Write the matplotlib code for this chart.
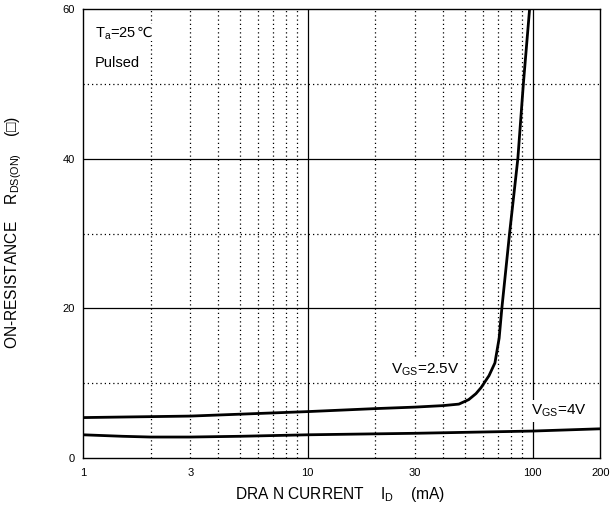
import matplotlib
matplotlib.use('Agg')
import matplotlib.pyplot as plt

plt.rcParams['font.family'] = ['Liberation Sans', 'DejaVu Sans']
plt.rcParams['mathtext.fontset'] = 'custom'
plt.rcParams['mathtext.rm'] = 'Liberation Sans'

# drain current (mA) vs on-resistance
id_25 = [1, 3, 10, 20, 30, 40, 47, 52, 56, 59, 64, 68, 71, 73, 79, 86, 91, 97]
r_25 = [5.4, 5.6, 6.2, 6.6, 6.8, 7.0, 7.2, 7.8, 8.6, 9.4, 11.0, 12.7, 16.0, 20.0, 30.0, 40.0, 50.0, 60.0]
id_4 = [1, 1.5, 2, 3, 5, 10, 30, 100, 200]
r_4 = [3.1, 2.9, 2.8, 2.8, 2.9, 3.1, 3.3, 3.6, 3.9]

xticks = [1, 3, 10, 30, 100, 200]
xtick_labels = ['1', '3', '10', '30', '100', '200']
yticks = [0, 20, 40, 60]

x_major = [10, 100]
x_minor = [2, 3, 4, 5, 6, 7, 8, 9, 20, 30, 40, 50, 60, 70, 80, 90]
y_major = [20, 40]
y_minor = [10, 30, 50]

fig = plt.figure(figsize=(6.1, 5.15), dpi=100)
ax = fig.add_axes([0.136, 0.1107, 0.848, 0.8718])

ax.set_xscale('log')
ax.set_xlim(1, 200)
ax.set_ylim(0, 60)

dot = (0, (1, 2.4))
for x in x_minor:
    ax.axvline(x, color='black', lw=0.9, ls=dot, zorder=1)
for y in y_minor:
    ax.axhline(y, color='black', lw=0.9, ls=dot, zorder=1)
for x in x_major:
    ax.axvline(x, color='black', lw=0.9, zorder=1)
for y in y_major:
    ax.axhline(y, color='black', lw=0.9, zorder=1)

ax.plot(id_25, r_25, color='black', lw=2.0, zorder=4, solid_capstyle='butt')
ax.plot(id_4, r_4, color='black', lw=2.0, zorder=4, solid_capstyle='butt')

ax.set_xticks(xticks)
ax.set_xticklabels(xtick_labels)
ax.xaxis.set_minor_locator(matplotlib.ticker.NullLocator())
ax.set_yticks(yticks)
ax.tick_params(length=0, labelsize=8, pad=7, colors='black')
ax.tick_params(axis='y', pad=6)

for s in ax.spines.values():
    s.set_linewidth(1.0)
    s.set_color('black')

box = dict(facecolor='white', edgecolor='none', pad=2)
ta = ax.text(0.023, 0.963, r'T$_\mathregular{a}$=25', transform=ax.transAxes,
             fontsize=10.5, va='top', ha='left', bbox=box, zorder=3)
ax.annotate('℃', xy=(1, 1), xycoords=ta, fontsize=10, va='top', ha='left',
            family='DejaVu Sans', bbox=dict(facecolor='white', edgecolor='none', pad=1), zorder=3)
ax.text(0.023, 0.895, 'Pulsed', transform=ax.transAxes,
        fontsize=10.5, va='top', ha='left', bbox=box, zorder=3)
ax.text(33.3, 11.8, r'V$_\mathregular{GS}$=2.5V', fontsize=11, ha='center', va='center',
        bbox=box, zorder=3)
ax.text(131, 6.3, r'V$_\mathregular{GS}$=4V', fontsize=11, ha='center', va='center',
        bbox=box, zorder=3)

fig.text(0.557, 0.04, r'DRA N CURRENT    I$_\mathregular{D}$    (mA)', fontsize=11.2,
         ha='center', va='center')
fig.text(0.022, 0.548, r'ON-RESISTANCE    R$_\mathregular{DS(ON)}$    (□)', fontsize=11.2,
         ha='center', va='center', rotation=90)

fig.savefig('out.png', dpi=100)
